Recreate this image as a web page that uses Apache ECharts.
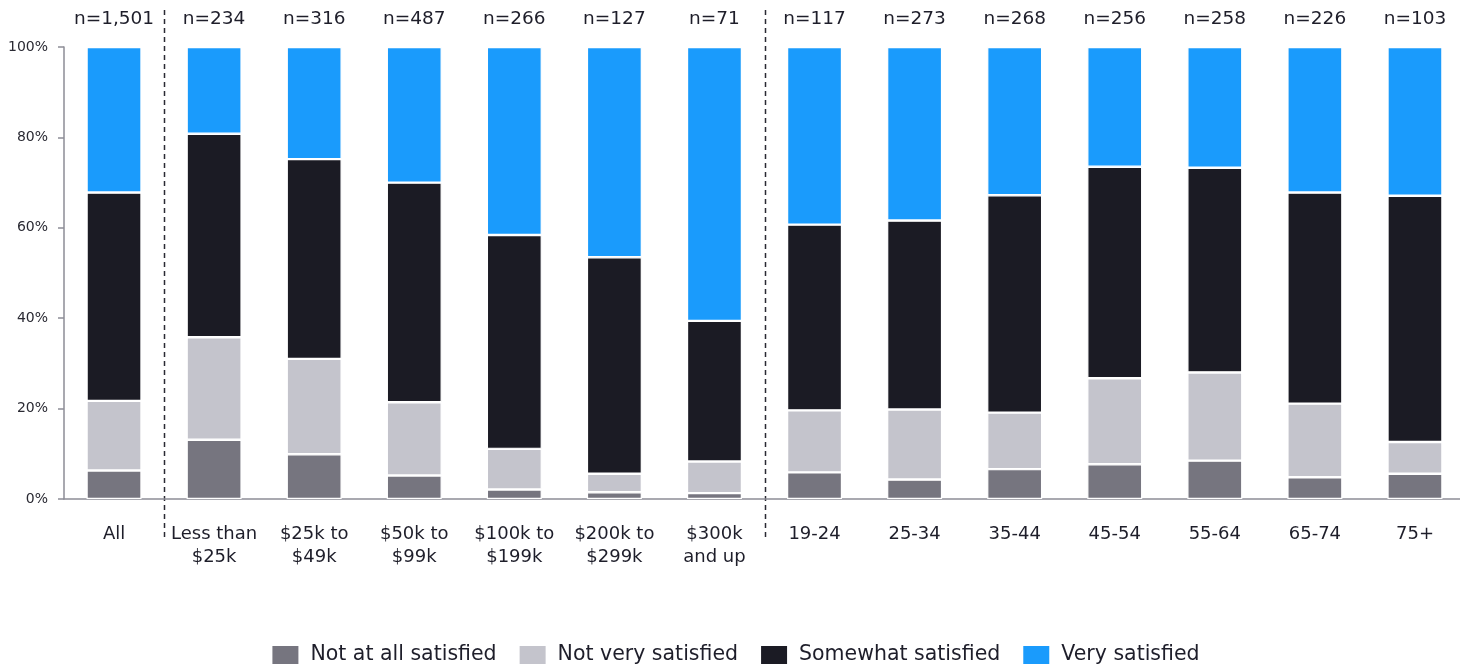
<!DOCTYPE html>
<html>
<head>
<meta charset="utf-8">
<title>Satisfaction by income and age</title>
<script src="https://cdn.jsdelivr.net/npm/echarts@6/dist/echarts.min.js"></script>
<style>
  html, body { margin: 0; padding: 0; background: #ffffff; overflow: hidden; }
  #chart { width: 1470px; height: 667px; }
</style>
</head>
<body>
<div id="chart"></div>
<script>
// Groups shown along the x axis
const categories = [
  'All', 'Less than\n$25k', '$25k to\n$49k', '$50k to\n$99k', '$100k to\n$199k',
  '$200k to\n$299k', '$300k\nand up', '19-24', '25-34', '35-44', '45-54',
  '55-64', '65-74', '75+'
];

// Sample sizes printed above each bar
const sampleSizes = [
  'n=1,501', 'n=234', 'n=316', 'n=487', 'n=266', 'n=127', 'n=71',
  'n=117', 'n=273', 'n=268', 'n=256', 'n=258', 'n=226', 'n=103'
];

// Share of respondents (%) per answer, one value per group
const notAtAllSatisfied = [6.3, 13.1, 9.9, 5.2, 2.1, 1.5, 1.3, 5.9, 4.3, 6.6, 7.7, 8.5, 4.8, 5.6];
const notVerySatisfied  = [15.4, 22.7, 21.1, 16.2, 9.0, 4.1, 7.0, 13.7, 15.5, 12.5, 19.0, 19.5, 16.3, 7.0];
const somewhatSatisfied = [46.1, 45.0, 44.2, 48.6, 47.3, 47.9, 31.1, 41.1, 41.8, 48.1, 46.8, 45.3, 46.7, 54.5];
const verySatisfied     = [32.2, 19.2, 24.8, 30.0, 41.6, 46.5, 60.6, 39.3, 38.4, 32.8, 26.5, 26.7, 32.2, 32.9];

// y axis ticks
const yTicks = [0, 20, 40, 60, 80, 100];

// Dashed separators sit between these group indices
const separatorsAfter = [0, 6];

const seriesDefs = [
  { name: 'Not at all satisfied', data: notAtAllSatisfied, color: '#76757f' },
  { name: 'Not very satisfied',   data: notVerySatisfied,  color: '#c4c4cc' },
  { name: 'Somewhat satisfied',   data: somewhatSatisfied, color: '#1b1b24' },
  { name: 'Very satisfied',       data: verySatisfied,     color: '#1a9bfc' }
];

const FONT = '"DejaVu Sans", "Noto Sans", sans-serif';
const TEXT = '#1e1e2a';

const chart = echarts.init(document.getElementById('chart'), null, { renderer: 'canvas' });

const option = {
  animation: false,
  backgroundColor: '#ffffff',
  textStyle: { fontFamily: FONT, color: TEXT },
  grid: { left: 64, right: 5, top: 47, bottom: 168, containLabel: false },
  legend: {
    bottom: 1,
    left: 'center',
    padding: 0,
    itemWidth: 28,
    itemHeight: 20,
    itemGap: 21,
    icon: 'rect',
    textStyle: { fontFamily: FONT, fontSize: 20.5, color: TEXT, padding: [0, 0, 0, 6] },
    data: seriesDefs.map(s => s.name)
  },
  xAxis: [
    {
      type: 'category',
      data: categories,
      position: 'bottom',
      axisLine: { show: true, lineStyle: { color: '#8d8d96', width: 1.5 } },
      axisTick: { show: false },
      axisLabel: {
        interval: 0, margin: 24, fontFamily: FONT, fontSize: 18,
        lineHeight: 23, color: TEXT
      }
    },
    {
      type: 'category',
      data: sampleSizes,
      position: 'top',
      axisLine: { show: false },
      axisTick: { show: false },
      axisLabel: {
        interval: 0, margin: 18, fontFamily: FONT, fontSize: 18.5, color: TEXT
      }
    }
  ],
  yAxis: {
    type: 'value',
    min: yTicks[0],
    max: yTicks[yTicks.length - 1],
    interval: 20,
    axisLine: { show: true, lineStyle: { color: '#8d8d96', width: 1.5 } },
    axisTick: { show: true, length: 6, lineStyle: { color: '#8d8d96', width: 1.5 } },
    splitLine: { show: false },
    axisLabel: {
      margin: 16, fontFamily: FONT, fontSize: 14, color: '#2a2a33',
      formatter: v => v + '%'
    }
  },
  series: seriesDefs.map(s => ({
    name: s.name,
    type: 'bar',
    stack: 'total',
    barWidth: 55,
    data: s.data,
    itemStyle: { color: s.color, borderColor: '#ffffff', borderWidth: 1.2 },
    emphasis: { disabled: true }
  }))
};

chart.setOption(option);

// Dashed vertical dividers between the "All", income and age groups
function drawSeparators() {
  const top = 10, bottom = 538;
  const elements = separatorsAfter.map(i => {
    const a = chart.convertToPixel({ xAxisIndex: 0 }, i);
    const b = chart.convertToPixel({ xAxisIndex: 0 }, i + 1);
    const x = Math.round((a + b) / 2) + 0.5;
    return {
      type: 'line',
      silent: true,
      shape: { x1: x, y1: top, x2: x, y2: bottom },
      style: { stroke: '#2a2a33', lineWidth: 1.5, lineDash: [5, 4] }
    };
  });
  chart.setOption({ graphic: elements });
}
drawSeparators();
</script>
</body>
</html>
